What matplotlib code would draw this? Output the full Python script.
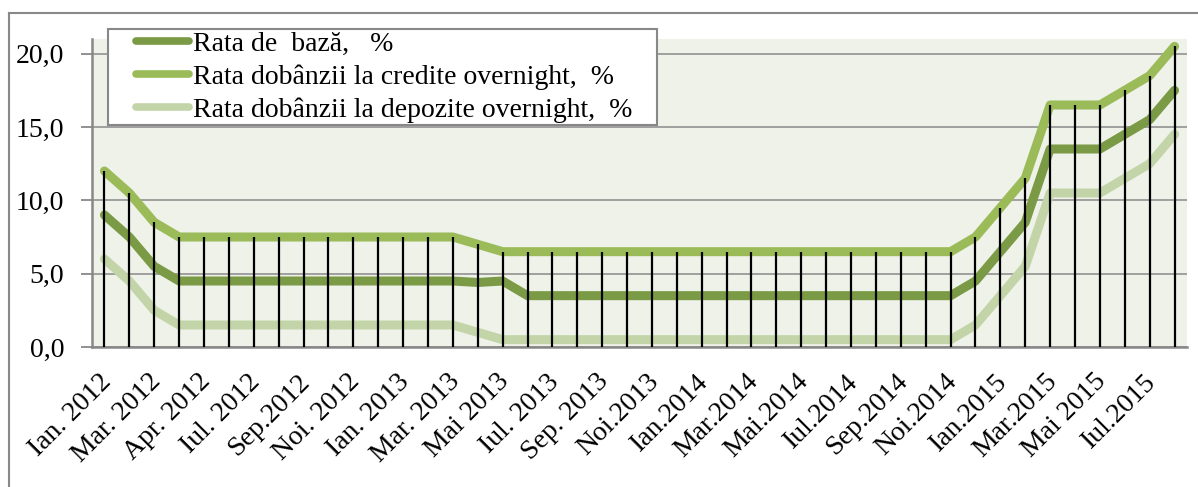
import numpy as np
import matplotlib
matplotlib.use('Agg')
import matplotlib.pyplot as plt
import matplotlib.transforms as mtransforms
from matplotlib.patches import Rectangle
from matplotlib.lines import Line2D

# monthly values, Jan 2012 .. Aug 2015 (44 months)
base_rate = [9.0, 7.5, 5.5] + [4.5] * 12 + [4.4, 4.5] + [3.5] * 18 + \
            [4.5, 6.5, 8.5, 13.5, 13.5, 13.5, 14.5, 15.5, 17.5]
credit_rate = [12.0, 10.5, 8.5] + [7.5] * 12 + [7.0] + [6.5] * 19 + \
              [7.5, 9.5, 11.5, 16.5, 16.5, 16.5, 17.5, 18.5, 20.5]
deposit_rate = [6.0, 4.5, 2.5] + [1.5] * 12 + [1.0] + [0.5] * 19 + \
               [1.5, 3.5, 5.5, 10.5, 10.5, 10.5, 11.5, 12.5, 14.5]

tick_labels = ['Ian. 2012', 'Mar. 2012', 'Apr. 2012', 'Iul. 2012', 'Sep.2012',
               'Noi. 2012', 'Ian. 2013', 'Mar. 2013', 'Mai 2013', 'Iul. 2013',
               'Sep. 2013', 'Noi.2013', 'Ian.2014', 'Mar.2014', 'Mai.2014',
               'Iul.2014', 'Sep.2014', 'Noi.2014', 'Ian.2015', 'Mar.2015',
               'Mai 2015', 'Iul.2015']
labels = ['Rata de  bază,   %',
          'Rata dobânzii la credite overnight,  %',
          'Rata dobânzii la depozite overnight,  %']
colors = ['#7b9a45', '#9bbb59', '#c3d5a8']

plt.rcParams['font.family'] = ['Liberation Serif', 'DejaVu Serif']
W, H = 1198, 487
FS = 20
fig = plt.figure(figsize=(W / 100, H / 100), dpi=100)
ax = fig.add_axes([92 / W, 1 - 347 / H, (1187 - 92) / W, (347 - 39) / H])
ax.set_facecolor('#eff2e9')

x = np.arange(len(base_rate))
ax.plot(x, deposit_rate, color=colors[2], lw=6.5, solid_capstyle='round',
        solid_joinstyle='round', zorder=3)
ax.plot(x, base_rate, color=colors[0], lw=6.5, solid_capstyle='round',
        solid_joinstyle='round', zorder=3)
ax.plot(x, credit_rate, color=colors[1], lw=6.5, solid_capstyle='round',
        solid_joinstyle='round', zorder=3)
# drop lines
ax.vlines(x, 0, credit_rate, color='black', lw=1.6, zorder=4)

ax.set_xlim(-0.5, len(x) - 0.5)
ax.set_ylim(0, 21)
ax.set_yticks([0, 5, 10, 15, 20])
ax.set_yticklabels(['0,0', '5,0', '10,0', '15,0', '20,0'])
ax.yaxis.grid(True, color='#999999', lw=1.3)
ax.set_axisbelow(True)
ax.set_xticks(np.arange(0, len(x), 2))
ax.set_xticklabels(tick_labels, rotation=45, ha='right', va='top',
                   rotation_mode='anchor')
ax.tick_params(axis='x', length=0, pad=16, labelsize=FS)
ax.tick_params(axis='y', length=8, width=1.3, color='#888888', pad=12,
               labelsize=FS)
shift = mtransforms.ScaledTranslation(-6 / 100, 0, fig.dpi_scale_trans)
for lab in ax.get_xticklabels():
    lab.set_transform(lab.get_transform() + shift)
for s in ['top', 'right']:
    ax.spines[s].set_visible(False)
for s in ['left', 'bottom']:
    ax.spines[s].set_color('#888888')
    ax.spines[s].set_linewidth(1.8)

# outer chart border (cropped)
fig.add_artist(Line2D([9 / W, 1], [1 - 13 / H] * 2, transform=fig.transFigure,
                      color='#888888', lw=1.5))
fig.add_artist(Line2D([9 / W] * 2, [0, 1 - 13 / H], transform=fig.transFigure,
                      color='#888888', lw=1.5))

# legend box
fig.add_artist(Rectangle((108 / W, 1 - 125 / H), (657 - 108) / W, (125 - 29) / H,
                         transform=fig.transFigure, facecolor='white',
                         edgecolor='#888888', lw=1.5, zorder=5))
handles = [Line2D([], [], color=c, lw=5.5, solid_capstyle='round') for c in colors]
fig.legend(handles, labels, loc='upper left', frameon=False,
           bbox_to_anchor=(136 / W, 1 - 31 / H), borderpad=0, borderaxespad=0,
           handlelength=1.9, handletextpad=0.15, labelspacing=0.28,
           fontsize=FS)

fig.savefig('out.png', dpi=100)
